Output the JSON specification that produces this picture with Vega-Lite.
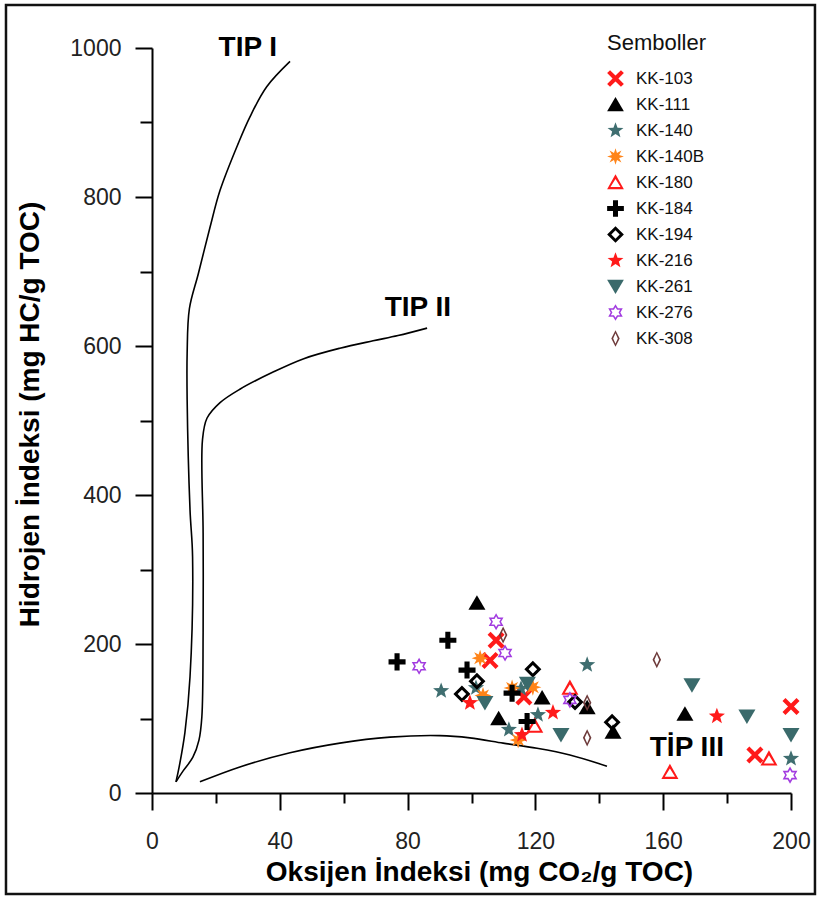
{
  "$schema": "https://vega.github.io/schema/vega-lite/v6.json",
  "width": 639,
  "height": 745,
  "autosize": {"type": "none"},
  "padding": {"left": 152, "top": 48, "right": 29, "bottom": 105},
  "background": "white",
  "config": {
    "view": {"stroke": null},
    "font": "Liberation Sans",
    "axis": {
      "grid": false,
      "domainColor": "#000000",
      "domainWidth": 2,
      "tickColor": "#000000",
      "tickWidth": 2,
      "labelColor": "#222222",
      "labelFont": "Liberation Sans",
      "labelFontSize": 23,
      "labelOverlap": false,
      "labelFlush": false,
      "titleFont": "Liberation Sans",
      "titleFontWeight": "bold",
      "titleFontSize": 28,
      "titleColor": "#000000"
    }
  },
  "datasets": {
    "curves": [
      {"c": "I", "i": 1, "oi": 7.5, "hi": 15},
      {"c": "I", "i": 2, "oi": 8.5, "hi": 35},
      {"c": "I", "i": 3, "oi": 10.3, "hi": 81},
      {"c": "I", "i": 4, "oi": 11.9, "hi": 156},
      {"c": "I", "i": 5, "oi": 12.7, "hi": 317},
      {"c": "I", "i": 6, "oi": 11.9, "hi": 380},
      {"c": "I", "i": 7, "oi": 11.0, "hi": 528},
      {"c": "I", "i": 8, "oi": 11.0, "hi": 590},
      {"c": "I", "i": 9, "oi": 11.7, "hi": 650},
      {"c": "I", "i": 10, "oi": 14.5, "hi": 697},
      {"c": "I", "i": 11, "oi": 18.2, "hi": 760},
      {"c": "I", "i": 12, "oi": 21.3, "hi": 809},
      {"c": "I", "i": 13, "oi": 27.0, "hi": 872},
      {"c": "I", "i": 14, "oi": 30.7, "hi": 908},
      {"c": "I", "i": 15, "oi": 35.9, "hi": 948},
      {"c": "I", "i": 16, "oi": 43.2, "hi": 982},
      {"c": "II", "i": 1, "oi": 7.5, "hi": 15},
      {"c": "II", "i": 2, "oi": 9.8, "hi": 30},
      {"c": "II", "i": 3, "oi": 12.8, "hi": 48},
      {"c": "II", "i": 4, "oi": 14.7, "hi": 71},
      {"c": "II", "i": 5, "oi": 15.6, "hi": 102},
      {"c": "II", "i": 6, "oi": 16.0, "hi": 215},
      {"c": "II", "i": 7, "oi": 16.0, "hi": 349},
      {"c": "II", "i": 8, "oi": 15.8, "hi": 474},
      {"c": "II", "i": 9, "oi": 17.2, "hi": 503},
      {"c": "II", "i": 10, "oi": 21.3, "hi": 524},
      {"c": "II", "i": 11, "oi": 27.5, "hi": 542},
      {"c": "II", "i": 12, "oi": 37.9, "hi": 565},
      {"c": "II", "i": 13, "oi": 47.5, "hi": 583},
      {"c": "II", "i": 14, "oi": 58.8, "hi": 597},
      {"c": "II", "i": 15, "oi": 69.2, "hi": 607},
      {"c": "II", "i": 16, "oi": 77.0, "hi": 614},
      {"c": "II", "i": 17, "oi": 86.1, "hi": 624},
      {"c": "III", "i": 1, "oi": 15.0, "hi": 15},
      {"c": "III", "i": 2, "oi": 27.5, "hi": 35},
      {"c": "III", "i": 3, "oi": 43.2, "hi": 54},
      {"c": "III", "i": 4, "oi": 58.8, "hi": 67},
      {"c": "III", "i": 5, "oi": 74.5, "hi": 75},
      {"c": "III", "i": 6, "oi": 90.1, "hi": 77},
      {"c": "III", "i": 7, "oi": 99.5, "hi": 74},
      {"c": "III", "i": 8, "oi": 109.9, "hi": 67},
      {"c": "III", "i": 9, "oi": 120.5, "hi": 60},
      {"c": "III", "i": 10, "oi": 130.8, "hi": 51},
      {"c": "III", "i": 11, "oi": 142.4, "hi": 36}
    ],
    "labels": [
      {"t": "TIP I", "oi": 30, "hi": 1000},
      {"t": "TIP II", "oi": 83.2, "hi": 651},
      {"t": "TİP III", "oi": 167.4, "hi": 60}
    ],
    "pts": [
      {"s": "KK-103", "oi": 107.7, "hi": 205},
      {"s": "KK-103", "oi": 105.8, "hi": 178},
      {"s": "KK-103", "oi": 116.4, "hi": 129},
      {"s": "KK-103", "oi": 200, "hi": 116},
      {"s": "KK-103", "oi": 188.7, "hi": 51},
      {"s": "KK-111", "oi": 101.7, "hi": 255},
      {"s": "KK-111", "oi": 122.1, "hi": 128},
      {"s": "KK-111", "oi": 108.5, "hi": 100},
      {"s": "KK-111", "oi": 136.2, "hi": 115},
      {"s": "KK-111", "oi": 144.3, "hi": 82},
      {"s": "KK-111", "oi": 166.8, "hi": 106},
      {"s": "KK-140", "oi": 90.5, "hi": 137},
      {"s": "KK-140", "oi": 101.4, "hi": 141},
      {"s": "KK-140", "oi": 115.5, "hi": 140},
      {"s": "KK-140", "oi": 111.7, "hi": 85},
      {"s": "KK-140", "oi": 120.8, "hi": 105},
      {"s": "KK-140", "oi": 136.2, "hi": 172},
      {"s": "KK-140", "oi": 200, "hi": 46},
      {"s": "KK-140B", "oi": 102.7, "hi": 181},
      {"s": "KK-140B", "oi": 103.6, "hi": 131},
      {"s": "KK-140B", "oi": 112.7, "hi": 141},
      {"s": "KK-140B", "oi": 119.2, "hi": 142},
      {"s": "KK-140B", "oi": 114.6, "hi": 71},
      {"s": "KK-180", "oi": 119.8, "hi": 90},
      {"s": "KK-180", "oi": 130.8, "hi": 141},
      {"s": "KK-180", "oi": 162.1, "hi": 28},
      {"s": "KK-180", "oi": 193.1, "hi": 46},
      {"s": "KK-184", "oi": 76.7, "hi": 176},
      {"s": "KK-184", "oi": 92.6, "hi": 205},
      {"s": "KK-184", "oi": 98.6, "hi": 165},
      {"s": "KK-184", "oi": 112.7, "hi": 134},
      {"s": "KK-184", "oi": 117.4, "hi": 96},
      {"s": "KK-194", "oi": 119.2, "hi": 166},
      {"s": "KK-194", "oi": 101.7, "hi": 150},
      {"s": "KK-194", "oi": 97.0, "hi": 133},
      {"s": "KK-194", "oi": 132.4, "hi": 122},
      {"s": "KK-194", "oi": 144.0, "hi": 95},
      {"s": "KK-216", "oi": 99.5, "hi": 121},
      {"s": "KK-216", "oi": 115.8, "hi": 78},
      {"s": "KK-216", "oi": 125.5, "hi": 108},
      {"s": "KK-216", "oi": 176.8, "hi": 103},
      {"s": "KK-261", "oi": 104.2, "hi": 121},
      {"s": "KK-261", "oi": 117.5, "hi": 147},
      {"s": "KK-261", "oi": 128.0, "hi": 78},
      {"s": "KK-261", "oi": 169.0, "hi": 145},
      {"s": "KK-261", "oi": 186.2, "hi": 103},
      {"s": "KK-261", "oi": 200, "hi": 78},
      {"s": "KK-276", "oi": 107.7, "hi": 230},
      {"s": "KK-276", "oi": 110.5, "hi": 188},
      {"s": "KK-276", "oi": 83.6, "hi": 170},
      {"s": "KK-276", "oi": 130.8, "hi": 125},
      {"s": "KK-276", "oi": 199.7, "hi": 24},
      {"s": "KK-308", "oi": 109.9, "hi": 212},
      {"s": "KK-308", "oi": 136.2, "hi": 121},
      {"s": "KK-308", "oi": 136.2, "hi": 74},
      {"s": "KK-308", "oi": 158.0, "hi": 179}
    ]
  },
  "layer": [
    {
      "data": {"values": [{"k": "frame"}]},
      "mark": {"type": "rect", "fill": null, "stroke": "#111111", "strokeWidth": 2.5, "clip": false},
      "encoding": {
        "x": {"datum": -45.7, "type": "quantitative"},
        "x2": {"datum": 207.5},
        "y": {"datum": 1057.7, "type": "quantitative"},
        "y2": {"datum": -135.6}
      }
    },
    {
      "data": {"name": "curves"},
      "mark": {"type": "line", "color": "#000000", "strokeWidth": 1.6, "interpolate": "catmull-rom"},
      "encoding": {
        "x": {"field": "oi", "type": "quantitative"},
        "y": {"field": "hi", "type": "quantitative"},
        "detail": {"field": "c"},
        "order": {"field": "i", "type": "quantitative"}
      }
    },
    {
      "data": {"name": "labels"},
      "mark": {"type": "text", "font": "Liberation Sans", "fontWeight": "bold", "fontSize": 28, "align": "center", "baseline": "middle", "color": "#000000"},
      "encoding": {
        "x": {"field": "oi", "type": "quantitative"},
        "y": {"field": "hi", "type": "quantitative"},
        "text": {"field": "t"}
      }
    },
    {
      "data": {"name": "pts"},
      "mark": {"type": "point", "filled": true, "size": 290, "strokeWidth": 0, "opacity": 1},
      "encoding": {
        "x": {
          "field": "oi", "type": "quantitative",
          "scale": {"domain": [0, 200], "nice": false, "zero": false},
          "axis": {
            "title": "Oksijen İndeksi (mg CO₂/g TOC)",
            "format": "d",
            "values": [0, 20, 40, 60, 80, 100, 120, 140, 160, 180, 200],
            "labelExpr": "datum.value % 40 === 0 ? datum.label : ''",
            "tickSize": {"condition": {"test": "datum.value % 40 === 0", "value": 17}, "value": 10},
            "labelPadding": 20,
            "titleX": 327,
            "titleY": 79,
            "titleBaseline": "middle"
          }
        },
        "y": {
          "field": "hi", "type": "quantitative",
          "scale": {"domain": [0, 1000], "nice": false, "zero": false},
          "axis": {
            "title": "Hidrojen İndeksi (mg HC/g TOC)",
            "format": "d",
            "values": [0, 100, 200, 300, 400, 500, 600, 700, 800, 900, 1000],
            "labelExpr": "datum.value % 200 === 0 ? datum.label : ''",
            "tickSize": {"condition": {"test": "datum.value % 200 === 0", "value": 17}, "value": 12},
            "labelPadding": 14,
            "titleX": -122,
            "titleY": 366,
            "titleAngle": -90,
            "titleBaseline": "middle",
            "titleAlign": "center"
          }
        },
        "color": {
          "field": "s", "type": "nominal",
          "scale": {
            "domain": ["KK-103", "KK-111", "KK-140", "KK-140B", "KK-180", "KK-184", "KK-194", "KK-216", "KK-261", "KK-276", "KK-308"],
            "range": ["#ff1a1a", "#000000", "#3f6e70", "#ff8419", "#ff1a1a", "#000000", "#000000", "#ff1a1a", "#3a6a6b", "#a23ce0", "#6e3b3b"]
          },
          "legend": {
            "orient": "none",
            "legendX": 455,
            "legendY": -15,
            "title": "Semboller",
            "titleFont": "Liberation Sans",
            "titleFontSize": 22,
            "titleFontWeight": "normal",
            "titleColor": "#111111",
            "titlePadding": 15,
            "labelFont": "Liberation Sans",
            "labelFontSize": 17,
            "labelColor": "#111111",
            "labelOffset": 12,
            "symbolSize": 280,
            "symbolStrokeWidth": 0,
            "rowPadding": 8
          }
        },
        "shape": {
          "field": "s", "type": "nominal",
          "scale": {
            "domain": ["KK-103", "KK-111", "KK-140", "KK-140B", "KK-180", "KK-184", "KK-194", "KK-216", "KK-261", "KK-276", "KK-308"],
            "range": [
              "M-0.65,-1L0,-0.35L0.65,-1L1,-0.65L0.35,0L1,0.65L0.65,1L0,0.35L-0.65,1L-1,0.65L-0.35,0L-1,-0.65Z",
              "M0,-0.9L1,0.8L-1,0.8Z",
              "M0,-1L0.247,-0.34L0.951,-0.309L0.399,0.13L0.588,0.809L0,0.42L-0.588,0.809L-0.399,0.13L-0.951,-0.309L-0.247,-0.34Z",
              "M0,-1L0.18,-0.43L0.707,-0.707L0.43,-0.18L1,0L0.43,0.18L0.707,0.707L0.18,0.43L0,1L-0.18,0.43L-0.707,0.707L-0.43,0.18L-1,0L-0.43,-0.18L-0.707,-0.707L-0.18,-0.43Z",
              "M0,-1L1,0.8L-1,0.8ZM0,-0.42L-0.6,0.55L0.6,0.55Z",
              "M-0.3,-1L0.3,-1L0.3,-0.3L1,-0.3L1,0.3L0.3,0.3L0.3,1L-0.3,1L-0.3,0.3L-1,0.3L-1,-0.3L-0.3,-0.3Z",
              "M0,-1L1,0L0,1L-1,0ZM0,-0.5L-0.5,0L0,0.5L0.5,0Z",
              "M0,-1L0.247,-0.34L0.951,-0.309L0.399,0.13L0.588,0.809L0,0.42L-0.588,0.809L-0.399,0.13L-0.951,-0.309L-0.247,-0.34Z",
              "M-1,-0.8L1,-0.8L0,0.9Z",
              "M0,-1L0.289,-0.5L0.866,-0.5L0.577,0L0.866,0.5L0.289,0.5L0,1L-0.289,0.5L-0.866,0.5L-0.577,0L-0.866,-0.5L-0.289,-0.5ZM0,-0.64L-0.185,-0.32L-0.554,-0.32L-0.37,0L-0.554,0.32L-0.185,0.32L0,0.64L0.185,0.32L0.554,0.32L0.37,0L0.554,-0.32L0.185,-0.32Z",
              "M0,-1L0.5,0L0,1L-0.5,0ZM0,-0.62L-0.28,0L0,0.62L0.28,0Z"
            ]
          }
        }
      }
    }
  ]
}
